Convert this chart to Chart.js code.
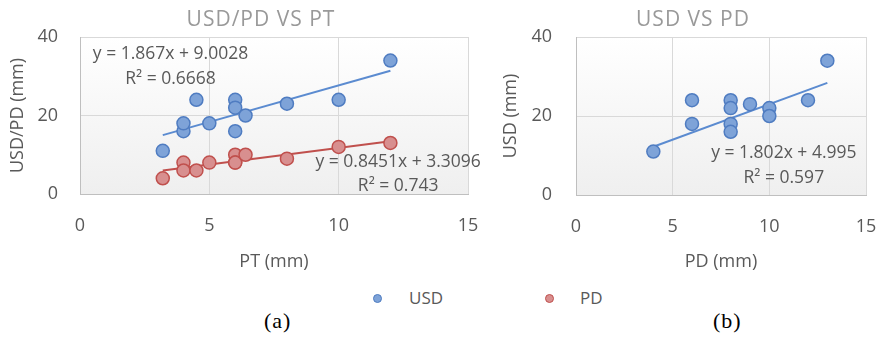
<!DOCTYPE html>
<html>
<head>
<meta charset="utf-8">
<script src="https://cdn.jsdelivr.net/npm/chart.js@4.4.1/dist/chart.umd.min.js"></script>
<style>
  html, body { margin: 0; padding: 0; background: #fff; overflow: hidden; }
  #wrap { position: relative; width: 877px; height: 338px; overflow: hidden; font-family: "Open Sans", sans-serif; }
  #boxA { position: absolute; left: 0; top: 0; width: 490px; height: 280px; }
  #boxB { position: absolute; left: 490px; top: 0; width: 387px; height: 280px; }
  .leg { position: absolute; top: 286px; font-size: 17px; color: #595959; line-height: 24px; }
  .dot { position: absolute; top: 8px; width: 7px; height: 7px; border-radius: 50%; border: 1.5px solid; }
  .cap { position: absolute; top: 308px; font-family: "Liberation Serif", "Times New Roman", serif; font-size: 22px; color: #000; letter-spacing: 1px; }
</style>
</head>
<body>
<div id="wrap">
  <div id="boxA"><canvas id="chartA"></canvas></div>
  <div id="boxB"><canvas id="chartB"></canvas></div>
  <div class="leg" style="left:373px"><span class="dot" style="left:0;background:#7ea3d8;border-color:#4f7cc1"></span><span style="margin-left:36px">USD</span></div>
  <div class="leg" style="left:545px"><span class="dot" style="left:0;background:#d88f8f;border-color:#c0504d"></span><span style="margin-left:35px">PD</span></div>
  <div class="cap" style="left:264px">(a)</div>
  <div class="cap" style="left:713px">(b)</div>
</div>
<script>
// chart (a): USD and PD against PT
const ptA  = [3.2, 4, 4, 4.5, 5, 6, 6, 6, 6.4, 8, 10, 12];
const usdA = [11, 16, 18, 24, 18, 24, 22, 16, 20, 23, 24, 34];
const pdA  = [4, 8, 6, 6, 8, 10, 8, 8, 10, 9, 12, 13];

// chart (b): USD against PD
const pdB  = [4, 6, 6, 8, 8, 8, 8, 9, 10, 10, 12, 13];
const usdB = [11, 24, 18, 24, 22, 18, 16, 23, 22, 20, 24, 34];

// trendline end points
const trendUsdA = [[3.2, 15.0], [12, 31.4]];
const trendPdA  = [[3.2, 6.0], [12, 13.45]];
const trendB    = [[4, 12.2], [13, 28.4]];

const eqUsdA = ["y = 1.867x + 9.0028", "R² = 0.6668"];
const eqPdA  = ["y = 0.8451x + 3.3096", "R² = 0.743"];
const eqB    = ["y = 1.802x + 4.995", "R² = 0.597"];

const xTicks = [0, 5, 10, 15];
const yTicks = [0, 20, 40];

const BLUE = "#4f7cc1", BLUE_FILL = "#7ea3d8";
const RED = "#c0504d", RED_FILL = "#d88f8f";
const GREY = "#595959";

const pts = (xs, ys) => xs.map((x, i) => ({ x, y: ys[i] }));
const line = arr => arr.map(p => ({ x: p[0], y: p[1] }));

const plotBg = {
  id: "plotBg",
  beforeDraw(chart) {
    const { ctx, chartArea: a } = chart;
    const g = ctx.createLinearGradient(0, a.top, 0, a.bottom);
    g.addColorStop(0, "#ffffff");
    g.addColorStop(1, "#efefef");
    ctx.save();
    ctx.fillStyle = g;
    ctx.fillRect(a.left, a.top, a.right - a.left, a.bottom - a.top);
    ctx.restore();
  }
};

// chart title, centred over the whole excel chart object rather than the canvas
const chartTitle = {
  id: "chartTitle",
  afterDraw(chart, args, opts) {
    const { ctx } = chart;
    ctx.save();
    ctx.font = opts.font;
    ctx.letterSpacing = opts.spacing;
    ctx.fillStyle = opts.color;
    ctx.textAlign = "center";
    ctx.textBaseline = "middle";
    ctx.fillText(opts.text, opts.x, opts.y);
    ctx.restore();
  }
};

const trendLabels = {
  id: "trendLabels",
  afterDatasetsDraw(chart, args, opts) {
    const { ctx, scales } = chart;
    ctx.save();
    ctx.font = opts.font;
    ctx.fillStyle = GREY;
    ctx.textAlign = "center";
    ctx.textBaseline = "middle";
    (opts.items || []).forEach(it => {
      const px = scales.x.getPixelForValue(it.x);
      const py = scales.y.getPixelForValue(it.y);
      it.lines.forEach((t, i) => ctx.fillText(t, px, py + i * opts.gap));
    });
    ctx.restore();
  }
};

function scatterSet(data, fill, border) {
  return {
    data, backgroundColor: fill, borderColor: border,
    pointRadius: 6.5, pointHoverRadius: 6.5, borderWidth: 1.5, order: 1
  };
}

function trendSet(data, color) {
  return {
    type: "line", data, borderColor: color, borderWidth: 2,
    pointRadius: 0, showLine: true, fill: false, order: 2
  };
}

function makeOptions(cfg) {
  return {
    responsive: true, maintainAspectRatio: false, animation: false,
    layout: { padding: { left: 0, right: cfg.padRight, top: 37, bottom: 0 } },
    plugins: {
      legend: { display: false },
      tooltip: { enabled: false },
      title: { display: false },
      chartTitle: {
        text: cfg.title, x: cfg.titleX, y: 20, color: "#999999",
        font: "21px 'Open Sans'", spacing: "1px"
      },
      trendLabels: { font: "17.5px 'Open Sans'", gap: 24.5, items: cfg.labels }
    },
    scales: {
      x: {
        type: "linear", min: 0, max: 15,
        afterBuildTicks: s => { s.ticks = xTicks.map(v => ({ value: v })); },
        ticks: { color: GREY, font: { family: "Open Sans", size: 18 }, padding: 21 },
        grid: { color: "#d9d9d9", drawTicks: false },
        border: { color: "#bfbfbf" },
        title: {
          display: true, text: cfg.xTitle, color: GREY,
          font: { family: "Open Sans", size: 18 }, padding: { top: 0, bottom: 7 }
        },
        afterFit: s => {
          s.height = cfg.xHeight;
          // keep the plot edges where the layout padding puts them
          s.paddingLeft = 0;
          s.paddingRight = 0;
        }
      },
      y: {
        min: 0, max: 40,
        afterBuildTicks: s => { s.ticks = yTicks.map(v => ({ value: v })); },
        ticks: { color: GREY, font: { family: "Open Sans", size: 18 }, padding: cfg.yPad },
        grid: { color: "#d9d9d9", drawTicks: false },
        border: { color: "#bfbfbf" },
        title: {
          display: true, text: cfg.yTitle, color: GREY,
          font: { family: "Open Sans", size: 18 }, padding: { top: cfg.yTitlePad }
        },
        afterFit: s => { s.width = cfg.yWidth; }
      }
    }
  };
}

new Chart(document.getElementById("chartA"), {
  type: "scatter",
  data: {
    datasets: [
      scatterSet(pts(ptA, usdA), BLUE_FILL, BLUE),
      scatterSet(pts(ptA, pdA), RED_FILL, RED),
      trendSet(line(trendUsdA), "#5b8bd0"),
      trendSet(line(trendPdA), RED)
    ]
  },
  options: makeOptions({
    title: "USD/PD VS PT", titleX: 261, xTitle: "PT (mm)", yTitle: "USD/PD (mm)",
    padRight: 22, xHeight: 86, yWidth: 80, yPad: 22, yTitlePad: 7,
    labels: [
      { x: 3.5, y: 35.6, lines: eqUsdA },
      { x: 12.3, y: 8.15, lines: eqPdA }
    ]
  }),
  plugins: [plotBg, chartTitle, trendLabels]
});

new Chart(document.getElementById("chartB"), {
  type: "scatter",
  data: {
    datasets: [
      scatterSet(pts(pdB, usdB), BLUE_FILL, BLUE),
      trendSet(line(trendB), "#5b8bd0")
    ]
  },
  options: makeOptions({
    title: "USD VS PD", titleX: 203, xTitle: "PD (mm)", yTitle: "USD (mm)",
    padRight: 11, xHeight: 85, yWidth: 86, yPad: 24, yTitlePad: 10,
    labels: [
      { x: 10.75, y: 10.6, lines: eqB }
    ]
  }),
  plugins: [plotBg, chartTitle, trendLabels]
});
</script>
</body>
</html>
